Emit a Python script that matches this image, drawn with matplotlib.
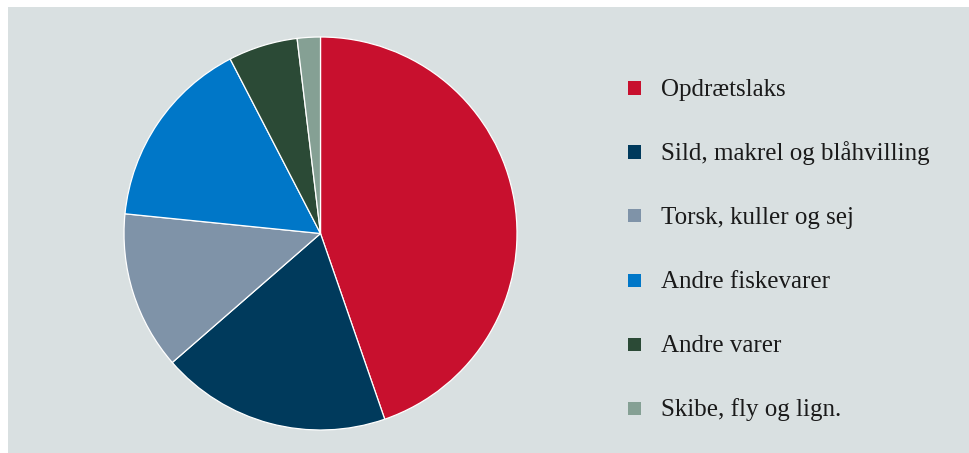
import matplotlib
matplotlib.use("Agg")
import matplotlib.pyplot as plt
from matplotlib.patches import Rectangle

categories = ["Opdrætslaks", "Sild, makrel og blåhvilling", "Torsk, kuller og sej",
              "Andre fiskevarer", "Andre varer", "Skibe, fly og lign."]
values = [44.7, 18.9, 13.0, 15.8, 5.7, 1.9]
colors = ["#C8102E", "#003A5C", "#7F93A8", "#0077C8", "#2B4A36", "#85A094"]

W, H = 969, 453
fig = plt.figure(figsize=(W / 100, H / 100), dpi=100)
fig.patch.set_facecolor("white")

bg = "#D9E0E1"
fig.patches.append(Rectangle((8 / W, 0), (W - 8) / W, (H - 7) / H,
                             transform=fig.transFigure, facecolor=bg,
                             edgecolor="none", zorder=-5))

cx, cy, r = 320.5, 233.5, 196.5
ax = fig.add_axes([(cx - r) / W, (H - cy - r) / H, 2 * r / W, 2 * r / H])
ax.set_zorder(1)
ax.set_facecolor("none")
ax.pie(values, colors=colors, startangle=90, counterclock=False, radius=1,
       wedgeprops=dict(edgecolor="white", linewidth=0.9))
ax.set_xlim(-1, 1)
ax.set_ylim(-1, 1)
ax.set_aspect("equal")
ax.axis("off")

x_sq, sq = 628, 13
x_txt = 661
for i, (lab, col) in enumerate(zip(categories, colors)):
    yc = 88 + 64 * i
    fig.patches.append(Rectangle((x_sq / W, (H - yc - sq / 2) / H), sq / W, sq / H,
                                 transform=fig.transFigure, facecolor=col,
                                 edgecolor="none", zorder=2))
    fig.text(x_txt / W, (H - yc - 8) / H, lab, fontsize=18,
             family="Liberation Serif", color="#1a1a1a", va="baseline", ha="left",
             zorder=3)

fig.savefig("out.png", dpi=100, facecolor="white")
